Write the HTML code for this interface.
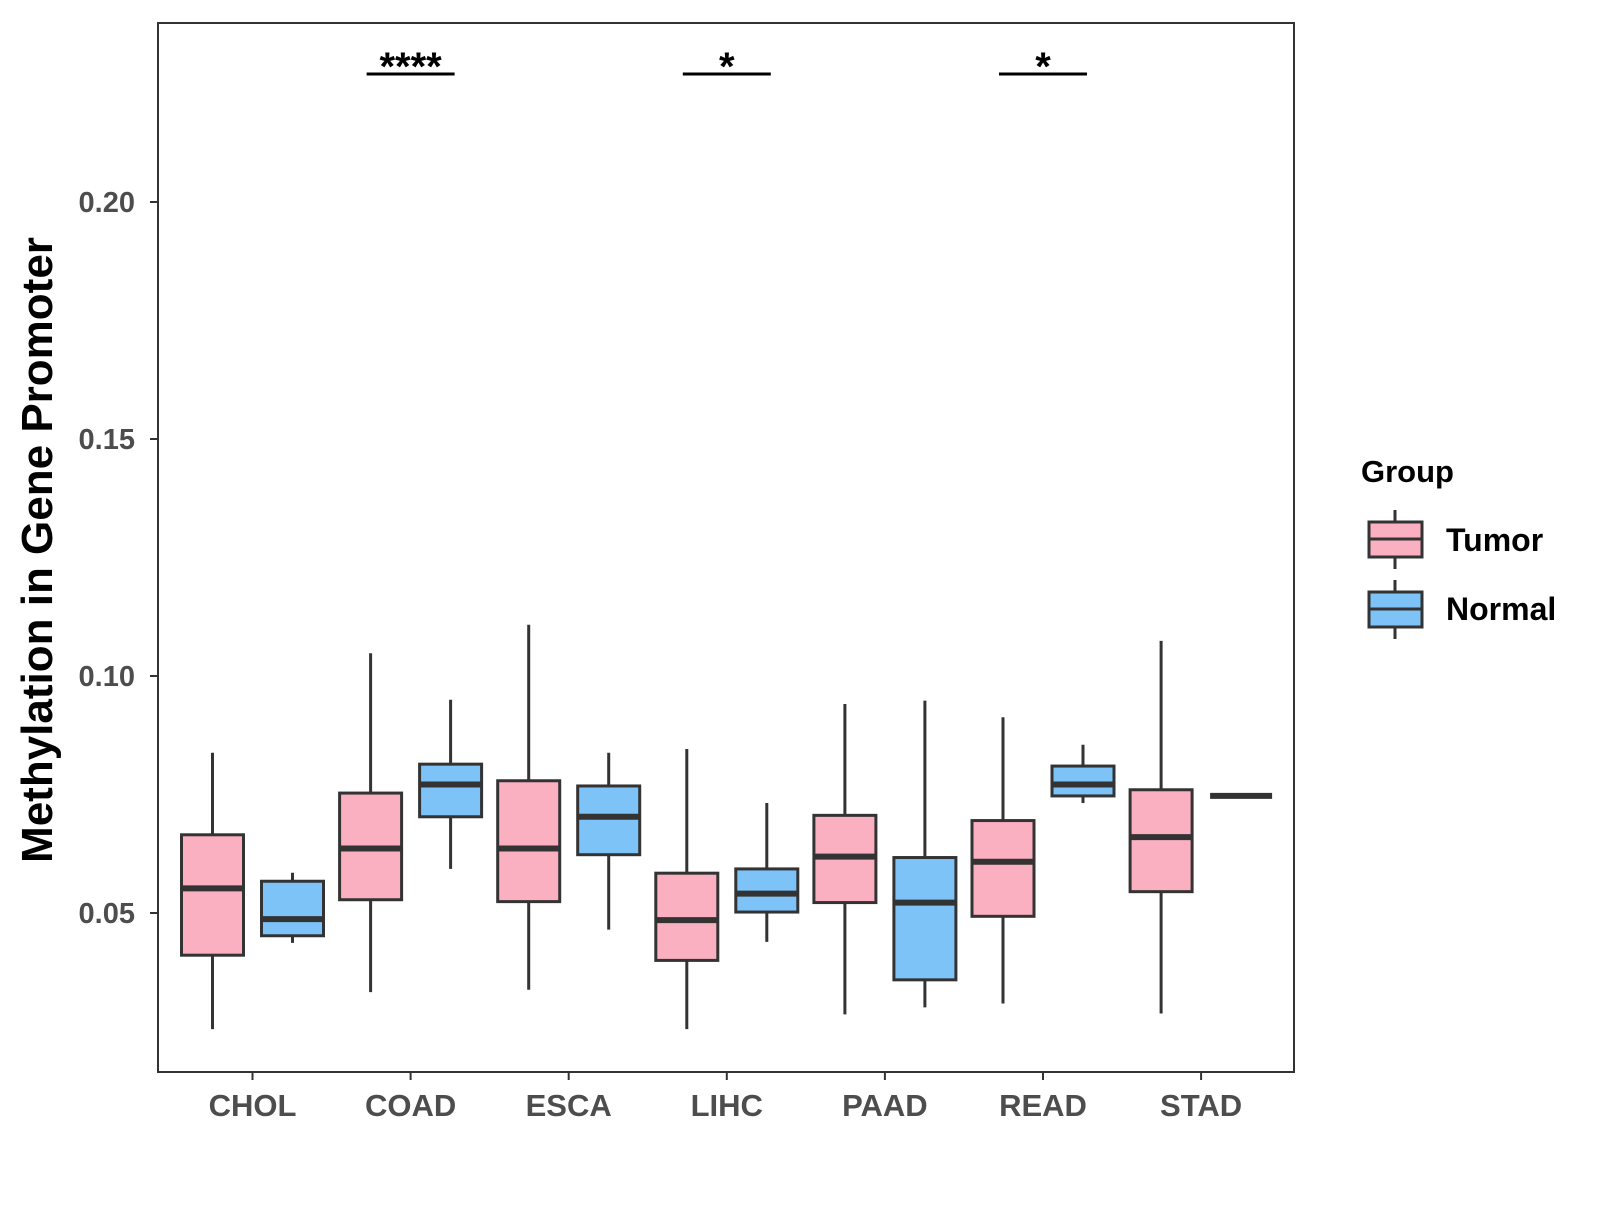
<!DOCTYPE html>
<html><head><meta charset="utf-8"><style>
html,body{margin:0;padding:0;background:#fff;}
svg text{font-family:"Liberation Sans",Arial,sans-serif;font-weight:bold;}
</style></head><body>
<svg id="chart" width="1600" height="1200" xmlns="http://www.w3.org/2000/svg">
<rect x="0" y="0" width="1600" height="1200" fill="#fff"/>
<g id="plot"></g>
<rect x="158" y="23" width="1136" height="1049" fill="none" stroke="#333" stroke-width="2"/>
<text x="52" y="550" transform="rotate(-90 52 550)" text-anchor="middle" font-size="44" fill="#000">Methylation in Gene Promoter</text>
<g transform="translate(-7,0)">
<text x="1368" y="482" font-size="31" fill="#000">Group</text>
<g>
<line x1="1402" y1="510" x2="1402" y2="569" stroke="#333" stroke-width="3"/>
<rect x="1376" y="522" width="53" height="35" fill="#FBB0C2" stroke="#333" stroke-width="3"/>
<line x1="1376" y1="539" x2="1429" y2="539" stroke="#333" stroke-width="3"/>
<text x="1453" y="551" font-size="32" fill="#000">Tumor</text>
</g>
<g>
<line x1="1402" y1="580" x2="1402" y2="639" stroke="#333" stroke-width="3"/>
<rect x="1376" y="592" width="53" height="35" fill="#7DC3F7" stroke="#333" stroke-width="3"/>
<line x1="1376" y1="609" x2="1429" y2="609" stroke="#333" stroke-width="3"/>
<text x="1453" y="620" font-size="32" fill="#000">Normal</text>
</g>
</g>
</svg>
<script>
const categories = ["CHOL","COAD","ESCA","LIHC","PAAD","READ","STAD"];
// [whiskerLow, q1, median, q3, whiskerHigh]
const tumorStats = [
 [0.0255,0.0411,0.0552,0.0665,0.0838],
 [0.0333,0.0528,0.0636,0.0753,0.1048],
 [0.0338,0.0524,0.0636,0.0779,0.1108],
 [0.0255,0.0400,0.0485,0.0584,0.0846],
 [0.0286,0.0522,0.0619,0.0706,0.0941],
 [0.0309,0.0493,0.0608,0.0695,0.0913],
 [0.0288,0.0545,0.0660,0.0760,0.1074]
];
const normalStats = [
 [0.0437,0.0452,0.0487,0.0567,0.0585],
 [0.0593,0.0703,0.0771,0.0814,0.0950],
 [0.0465,0.0623,0.0703,0.0768,0.0838],
 [0.0439,0.0502,0.0541,0.0593,0.0732],
 [0.0301,0.0359,0.0522,0.0617,0.0948],
 [0.0732,0.0747,0.0771,0.0810,0.0855],
 [0.0747,0.0747,0.0747,0.0747,0.0747]
];
const yTicks = [0.05,0.10,0.15,0.20];
const yTickLabels = ["0.05","0.10","0.15","0.20"];
const sigCategories = ["COAD","LIHC","READ"];
const sigLabels = ["****","*","*"];
const sigLevel = 0.227;

const NS="http://www.w3.org/2000/svg";
const g=document.getElementById('plot');
function y(v){return 202+(0.20-v)/0.05*237;}
function x(i){return 252.5+i*158.1;}
const off=40, bw=62;
function mk(tag,attrs){const e=document.createElementNS(NS,tag);for(const k in attrs)e.setAttribute(k,attrs[k]);return e;}

yTicks.forEach((t,i)=>{
  const tk=mk('line',{x1:150,x2:158,y1:y(t),y2:y(t),stroke:'#333','stroke-width':2});
  
  
  g.appendChild(tk);
  const tx=mk('text',{x:135,y:y(t)+10,'text-anchor':'end','font-size':29,fill:'#4d4d4d'});
  tx.textContent=yTickLabels[i];
  
  
  g.appendChild(tx);
});
categories.forEach((c,i)=>{
  const tk=mk('line',{x1:x(i),x2:x(i),y1:1072,y2:1080,stroke:'#333','stroke-width':2});
  
  
  g.appendChild(tk);
  const tx=mk('text',{x:x(i),y:1116,'text-anchor':'middle','font-size':31,fill:'#4d4d4d'});
  tx.textContent=c;
  
  
  g.appendChild(tx);
});
function box(cx,s,fill,name){
  const grp=mk('g',{});
  
  
  grp.appendChild(mk('line',{x1:cx,x2:cx,y1:y(s[0]),y2:y(s[4]),stroke:'#333','stroke-width':3}));
  grp.appendChild(mk('rect',{x:cx-bw/2,y:y(s[3]),width:bw,height:Math.max(0,y(s[1])-y(s[3])),fill:fill,stroke:'#333','stroke-width':3}));
  grp.appendChild(mk('line',{x1:cx-bw/2,x2:cx+bw/2,y1:y(s[2]),y2:y(s[2]),stroke:'#333','stroke-width':6}));
  g.appendChild(grp);
}
categories.forEach((c,i)=>{
  box(x(i)-off,tumorStats[i],'#FBB0C2','box-tumor-'+c.toLowerCase());
  box(x(i)+off,normalStats[i],'#7DC3F7','box-normal-'+c.toLowerCase());
});
sigCategories.forEach((c,k)=>{
  const i=categories.indexOf(c);
  const ln=mk('line',{x1:x(i)-44,x2:x(i)+44,y1:y(sigLevel),y2:y(sigLevel),stroke:'#000','stroke-width':3});
  
  
  g.appendChild(ln);
  const tx=mk('text',{x:x(i),y:y(sigLevel)+6,'text-anchor':'middle','font-size':40,fill:'#000'});
  tx.textContent=sigLabels[k];
  
  
  g.appendChild(tx);
});
</script>
</body></html>
